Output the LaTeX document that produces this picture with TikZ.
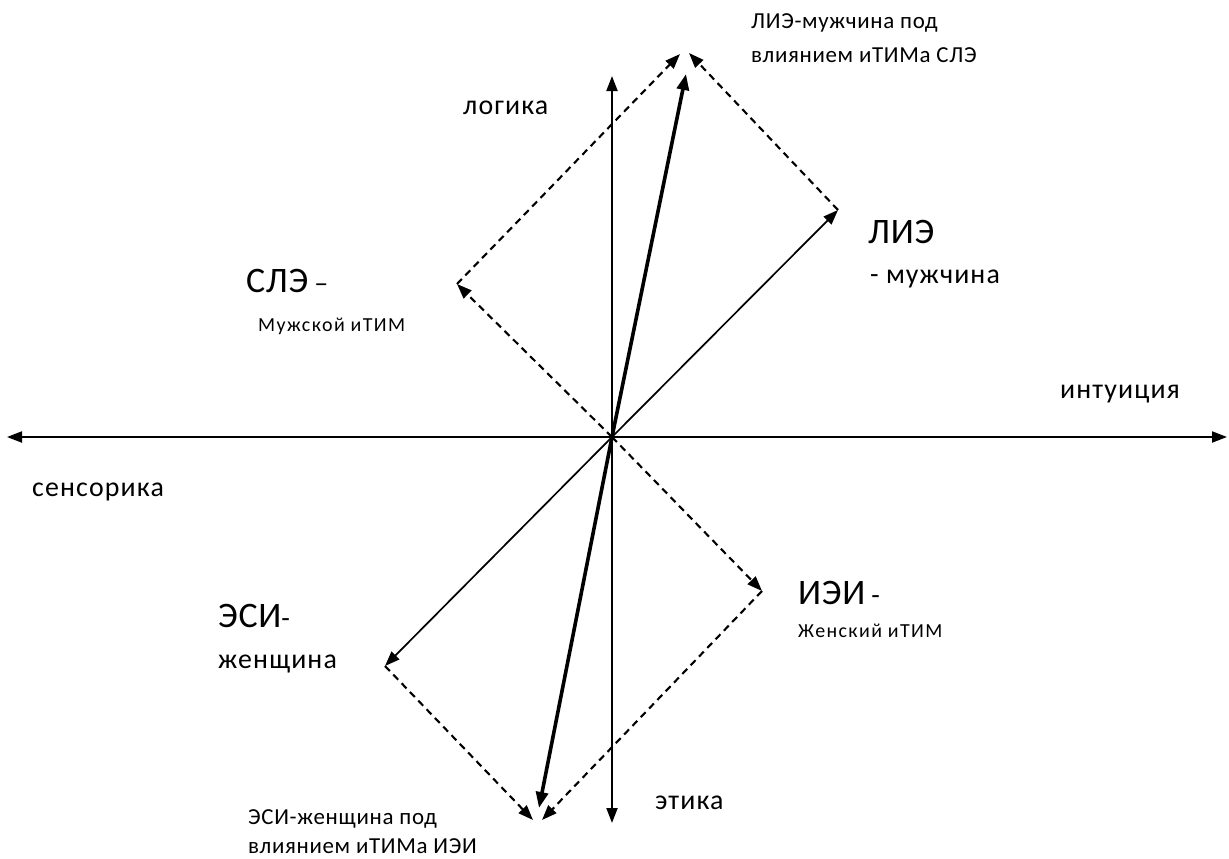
\documentclass[tikz,border=0pt]{standalone}
\usepackage{fontspec}
\setmainfont{Carlito}
\usetikzlibrary{arrows.meta}
\tikzset{
  tip/.style={-{Triangle[length=15bp,width=11bp]}},
  axis/.style={line width=2bp, {Triangle[length=15bp,width=11bp]}-{Triangle[length=15bp,width=11bp]}},
  thinarrow/.style={tip, line width=1.7bp},
  dasharrow/.style={tip, line width=2.1bp, dash pattern=on 7bp off 5bp},
  boldarrow/.style={line width=3.6bp, -{Triangle[length=16bp,width=12bp]}},
  lbl/.style={anchor=base west, inner sep=0pt, font=\fontsize{28}{32}\selectfont\addfontfeature{LetterSpace=4}},
  big/.style={anchor=base west, inner sep=0pt, font=\fontsize{36}{40}\selectfont\addfontfeature{LetterSpace=2}},
  small/.style={anchor=base west, inner sep=0pt, font=\fontsize{20}{24}\selectfont\addfontfeature{LetterSpace=7}},
  captext/.style={anchor=base west, inner sep=0pt, font=\fontsize{23}{26}\selectfont\addfontfeature{LetterSpace=3}},
}
\begin{document}
\begin{tikzpicture}[x=1bp,y=-1bp]
\useasboundingbox (0,0) rectangle (1229,859);
% coordinates
\coordinate (O) at (612,437);
\coordinate (Ltop) at (612,76);
\coordinate (Lbot) at (612,823);
\coordinate (Lleft) at (7,437);
\coordinate (Lright) at (1227,437);
\coordinate (LIE) at (838,210);
\coordinate (SLE) at (457,284);
\coordinate (Top) at (685,56);
\coordinate (BoldT) at (686,74);
\coordinate (IEI) at (762,591);
\coordinate (ESI) at (385,666);
\coordinate (Bot) at (538,818);
\coordinate (BoldB) at (539,808);
% axes
\draw[axis] (Lleft) -- (Lright);
\draw[axis] (Lbot) -- (Ltop);
% vectors
\draw[thinarrow] (O) -- (LIE);
\draw[dasharrow] (O) -- (SLE);
\draw[thinarrow] (O) -- (ESI);
\draw[dasharrow] (O) -- (IEI);
% parallelogram dashed
\draw[dasharrow] (SLE) -- ([xshift=-5bp,yshift=2bp]Top);
\draw[dasharrow] (LIE) -- ([xshift=4bp,yshift=3bp]Top);
\draw[dasharrow] (ESI) -- ([xshift=-5bp,yshift=-2bp]Bot);
\draw[dasharrow] (IEI) -- ([xshift=4bp,yshift=-2bp]Bot);
% resultants
\draw[boldarrow] (O) -- (BoldT);
\draw[boldarrow] (O) -- (BoldB);
% labels
\node[lbl] (logika) at (463,114) {логика};
\node[lbl] (intu) at (1060,398) {интуиция};
\node[lbl] (sens) at (32,496) {сенсорика};
\node[lbl] (etika) at (655,809) {этика};
\node[big] (lie) at (868,243) {ЛИЭ};
\node[lbl] (lie2) at (870,283) {- мужчина};
\node[big] (sle) at (246,292) {СЛЭ\,\fontsize{28}{30}\selectfont –};
\node[small] (sle2) at (258,331) {Мужской иТИМ};
\node[big] (iei) at (798,604) {ИЭИ\,\fontsize{28}{30}\selectfont -};
\node[small] (iei2) at (798,637) {Женский иТИМ};
\node[big] (esi) at (218,627) {ЭСИ\fontsize{28}{30}\selectfont -};
\node[lbl] (esi2) at (218,668) {женщина};
\node[captext] (topc1) at (751,28) {ЛИЭ-мужчина под};
\node[captext] (topc2) at (751,62) {влиянием иТИМа СЛЭ};
\node[captext] (botc1) at (248,824) {ЭСИ-женщина под};
\node[captext] (botc2) at (248,853) {влиянием иТИМа ИЭИ};
\end{tikzpicture}
\end{document}
